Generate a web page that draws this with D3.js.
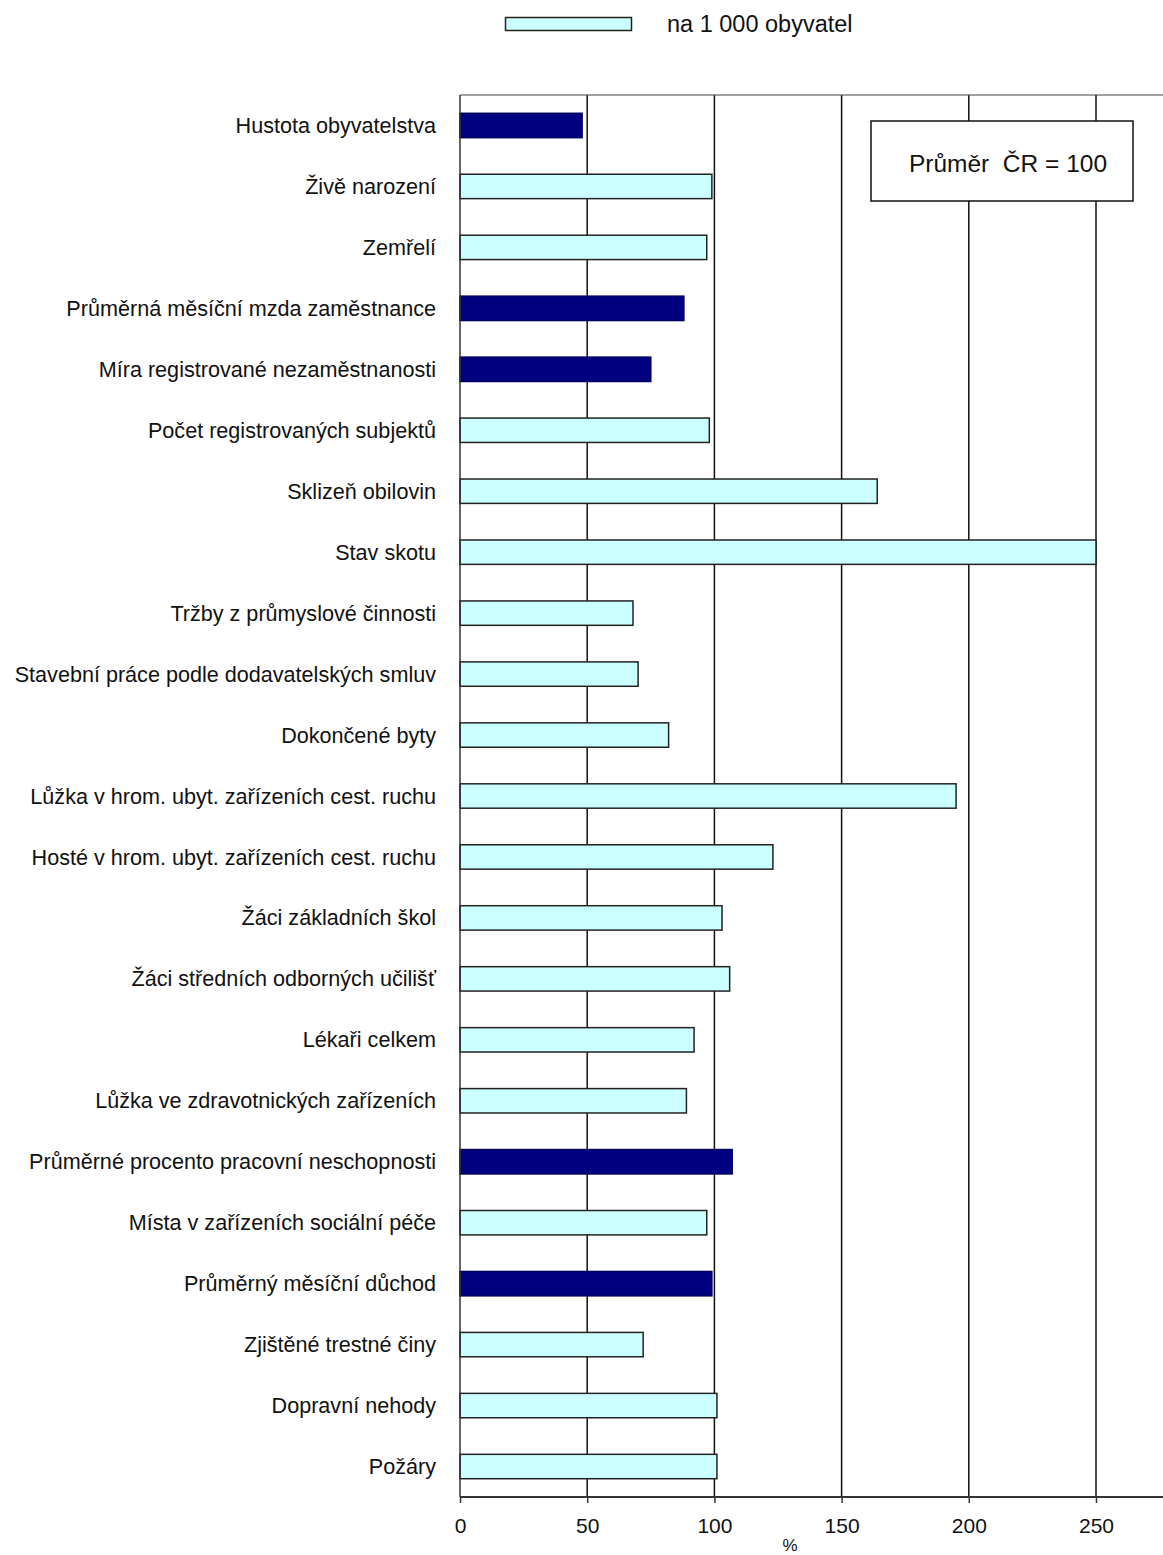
<!DOCTYPE html>
<html>
<head>
<meta charset="utf-8">
<style>
  body { margin: 0; background: #fff; }
  svg { display: block; font-family: "Liberation Sans", Arial, sans-serif; }
</style>
</head>
<body>
<svg width="1163" height="1555"></svg>
<script src="https://cdn.jsdelivr.net/npm/d3@7"></script>
<script>
const width = 1163;
const height = 1555;

// indicators, top to bottom
const categories = [
    "Hustota obyvatelstva",
    "Živě narození",
    "Zemřelí",
    "Průměrná měsíční mzda zaměstnance",
    "Míra registrované nezaměstnanosti",
    "Počet registrovaných subjektů",
    "Sklizeň obilovin",
    "Stav skotu",
    "Tržby z průmyslové činnosti",
    "Stavební práce podle dodavatelských smluv",
    "Dokončené byty",
    "Lůžka v hrom. ubyt. zařízeních cest. ruchu",
    "Hosté v hrom. ubyt. zařízeních cest. ruchu",
    "Žáci základních škol",
    "Žáci středních odborných učilišť",
    "Lékaři celkem",
    "Lůžka ve zdravotnických zařízeních",
    "Průměrné procento pracovní neschopnosti",
    "Místa v zařízeních sociální péče",
    "Průměrný měsíční důchod",
    "Zjištěné trestné činy",
    "Dopravní nehody",
    "Požáry"
];
// % of Czech average
const values = [48, 99, 97, 88, 75, 98, 164, 250, 68, 70, 82, 195, 123, 103, 106, 92, 89, 107, 97, 99, 72, 101, 101];
// true = not per 1 000 inhabitants (dark bars)
const absolute = [true, false, false, true, true, false, false, false, false, false, false, false, false, false, false, false, false, true, false, true, false, false, false];
const xTicks = [0, 50, 100, 150, 200, 250];
const legendLabel = "na 1 000 obyvatel";
const noteLabel = "Průměr  ČR = 100";

const plotLeft = 460, plotTop = 95, plotBottom = 1497;
const x = d3.scaleLinear().domain([0, 250]).range([plotLeft, 1096]);
const y = d3.scaleBand().domain(categories).range([plotTop, plotBottom]).paddingInner(0.6).paddingOuter(0.3);

const svg = d3.select("svg");

// legend
svg.append("rect")
    .attr("x", 505.5).attr("y", 17.5).attr("width", 126).attr("height", 13)
    .attr("fill", "#ccffff").attr("stroke", "#222").attr("stroke-width", 1.5);
svg.append("text")
    .attr("x", 667).attr("y", 24).attr("dy", "0.35em")
    .attr("font-size", 23.5).attr("fill", "#111")
    .text(legendLabel);

// grid lines
svg.append("g")
    .selectAll("line")
    .data(xTicks.slice(1))
    .join("line")
    .attr("x1", d => x(d)).attr("x2", d => x(d))
    .attr("y1", plotTop).attr("y2", plotBottom)
    .attr("stroke", "#111").attr("stroke-width", 1.5);

// top border
svg.append("line")
    .attr("x1", plotLeft).attr("x2", width).attr("y1", plotTop).attr("y2", plotTop)
    .attr("stroke", "#444").attr("stroke-width", 1.2);

// note box
svg.append("rect")
    .attr("x", 871).attr("y", 121).attr("width", 262).attr("height", 80)
    .attr("fill", "#fff").attr("stroke", "#111").attr("stroke-width", 1.5);
svg.append("text")
    .attr("x", 1008).attr("y", 163).attr("dy", "0.35em")
    .attr("text-anchor", "middle").attr("font-size", 24.5).attr("fill", "#111")
    .attr("xml:space", "preserve")
    .text(noteLabel);

// bars
svg.append("g")
    .selectAll("rect")
    .data(categories)
    .join("rect")
    .attr("x", x(0))
    .attr("y", d => y(d))
    .attr("width", (d, i) => x(values[i]) - x(0))
    .attr("height", y.bandwidth())
    .attr("fill", (d, i) => absolute[i] ? "#000080" : "#ccffff")
    .attr("stroke", (d, i) => absolute[i] ? "#000060" : "#222")
    .attr("stroke-width", 1.5);

// category labels
svg.append("g")
    .selectAll("text")
    .data(categories)
    .join("text")
    .attr("x", 436)
    .attr("y", d => y(d) + y.bandwidth() / 2)
    .attr("dy", "0.35em")
    .attr("text-anchor", "end")
    .attr("font-size", 21.6)
    .attr("fill", "#111")
    .text(d => d);

// left axis line
svg.append("line")
    .attr("x1", plotLeft).attr("x2", plotLeft).attr("y1", plotTop).attr("y2", plotBottom)
    .attr("stroke", "#333").attr("stroke-width", 1.5);

// bottom axis
const xAxis = d3.axisBottom(x).tickValues(xTicks).tickSize(6).tickPadding(15);
const gx = svg.append("g").attr("transform", `translate(0,${plotBottom})`).call(xAxis);
gx.select(".domain").remove();
gx.append("line")
    .attr("x1", plotLeft).attr("x2", width).attr("y1", 0).attr("y2", 0)
    .attr("stroke", "#333").attr("stroke-width", 2);
gx.selectAll(".tick line").attr("stroke", "#333").attr("stroke-width", 1.5);
gx.selectAll(".tick text")
    .attr("font-size", 21).attr("fill", "#111")
    .attr("font-family", "'Liberation Sans', Arial, sans-serif");

svg.append("text")
    .attr("x", 790).attr("y", 1551)
    .attr("text-anchor", "middle").attr("font-size", 17).attr("fill", "#111")
    .text("%");
</script>
</body>
</html>
